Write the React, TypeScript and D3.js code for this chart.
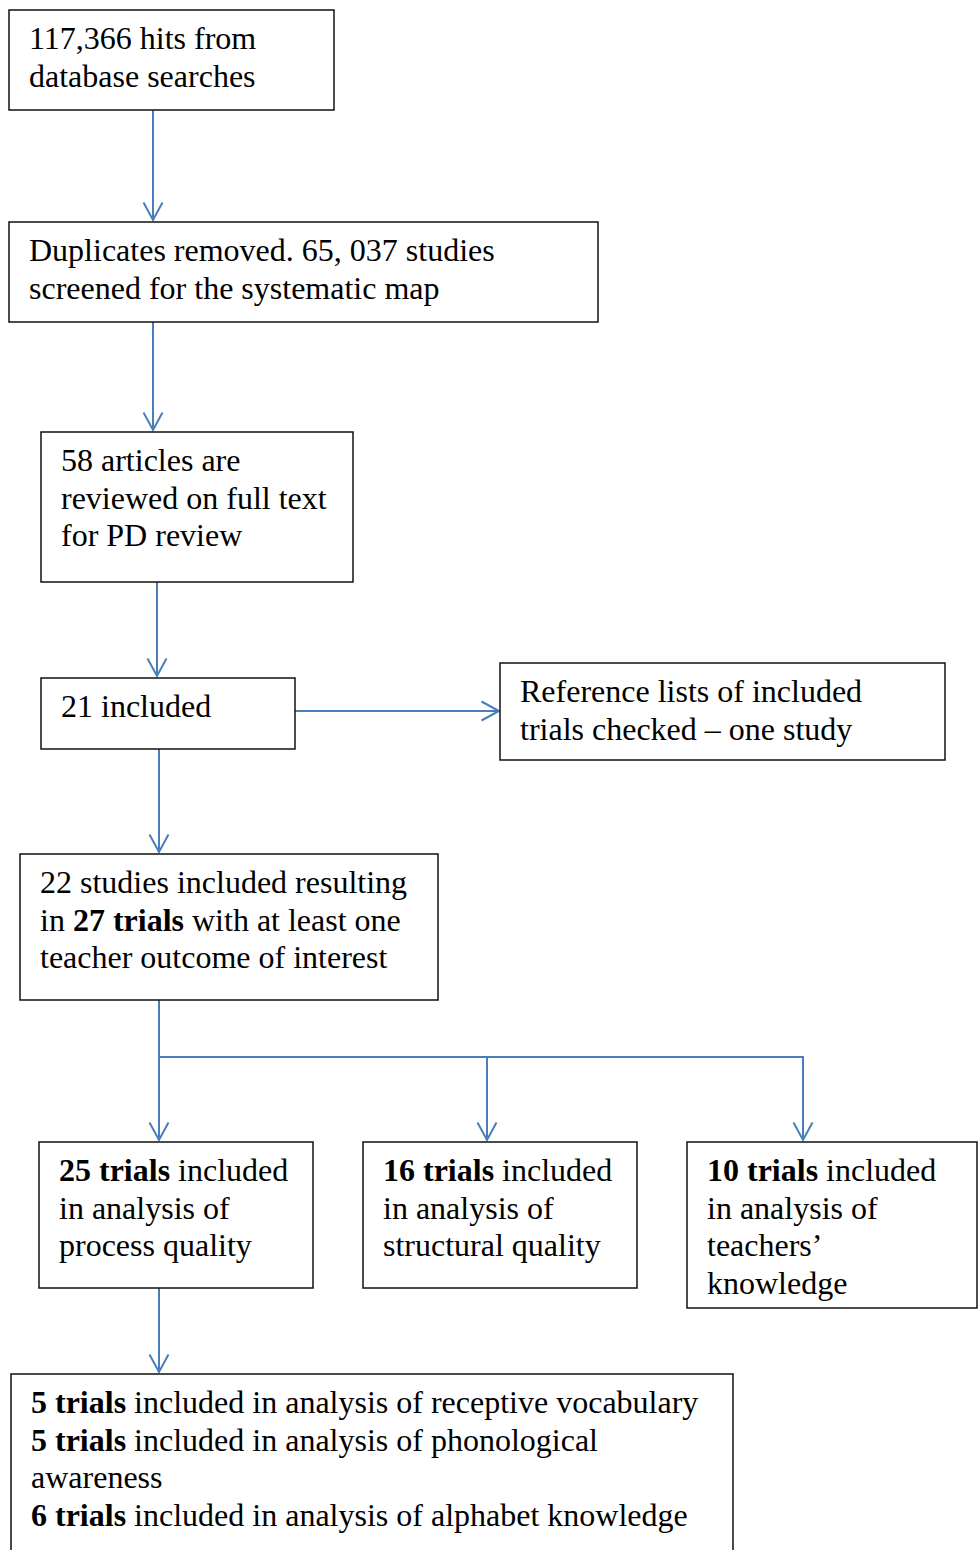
import React, { useEffect, useRef } from 'react';
import * as d3 from 'd3';

// Box texts (** marks bold runs)
const searchText = ['117,366 hits from', 'database searches'];
const dedupText = ['Duplicates removed. 65, 037 studies', 'screened for the systematic map'];
const fullTextText = ['58 articles are', 'reviewed on full text', 'for PD review'];
const includedText = ['21 included'];
const refListText = ['Reference lists of included', 'trials checked – one study'];
const studiesText = ['22 studies included resulting', 'in **27 trials** with at least one', 'teacher outcome of interest'];
const processText = ['**25 trials** included', 'in analysis of', 'process quality'];
const structuralText = ['**16 trials** included', 'in analysis of', 'structural quality'];
const knowledgeText = ['**10 trials** included', 'in analysis of', 'teachers’', 'knowledge'];
const childText = [
  '**5 trials** included in analysis of receptive vocabulary',
  '**5 trials** included in analysis of phonological',
  'awareness',
  '**6 trials** included in analysis of alphabet knowledge',
];

// Layout of the flowchart boxes
const layout: Record<string, { x: number; y: number; w: number; h: number; lines: string[] }> = {
  search: { x: 9, y: 10, w: 325, h: 100, lines: searchText },
  dedup: { x: 9, y: 222, w: 589, h: 100, lines: dedupText },
  fulltext: { x: 41, y: 432, w: 312, h: 150, lines: fullTextText },
  included: { x: 41, y: 678, w: 254, h: 71, lines: includedText },
  reflist: { x: 500, y: 663, w: 445, h: 97, lines: refListText },
  studies: { x: 20, y: 854, w: 418, h: 146, lines: studiesText },
  process: { x: 39, y: 1142, w: 274, h: 146, lines: processText },
  structural: { x: 363, y: 1142, w: 274, h: 146, lines: structuralText },
  knowledge: { x: 687, y: 1142, w: 290, h: 166, lines: knowledgeText },
  child: { x: 11, y: 1374, w: 722, h: 190, lines: childText },
};

// Connectors: [from box, to box, x of the vertical drop, optional branch y]
const links: { from: string; to: string; x: number; branchY?: number; fromX?: number }[] = [
  { from: 'search', to: 'dedup', x: 153 },
  { from: 'dedup', to: 'fulltext', x: 153 },
  { from: 'fulltext', to: 'included', x: 157 },
  { from: 'included', to: 'studies', x: 159 },
  { from: 'studies', to: 'process', x: 159 },
  { from: 'studies', to: 'structural', x: 487, branchY: 1057 },
  { from: 'studies', to: 'knowledge', x: 803, branchY: 1057, fromX: 159 },
  { from: 'process', to: 'child', x: 159 },
];

const FONT = '"Liberation Serif", "Times New Roman", Times, serif';
const BLUE = '#4a7ebb';

function App() {
  const svgRef = useRef<SVGSVGElement>(null);
  const width = 978;
  const height = 1550;

  useEffect(() => {
    if (!svgRef.current) return;
    const svg = d3.select(svgRef.current);
    svg.selectAll('*').remove();

    const line = d3.line<[number, number]>();
    const arrows = svg.append('g')
      .attr('fill', 'none')
      .attr('stroke', BLUE)
      .attr('stroke-width', 2);

    const headDown = (x: number, y: number) =>
      line([[x - 9.5, y - 17.5], [x, y], [x + 9.5, y - 17.5]]);
    const headRight = (x: number, y: number) =>
      line([[x - 17.5, y - 9.5], [x, y], [x - 17.5, y + 9.5]]);

    links.forEach(l => {
      const a = layout[l.from];
      const b = layout[l.to];
      const tipY = b.y - 2;
      if (l.branchY !== undefined) {
        const pts: [number, number][] = l.fromX !== undefined
          ? [[l.fromX, l.branchY], [l.x, l.branchY], [l.x, tipY]]
          : [[l.x, l.branchY], [l.x, tipY]];
        arrows.append('path').attr('d', line(pts));
      } else {
        arrows.append('path').attr('d', line([[l.x, a.y + a.h], [l.x, tipY]]));
      }
      arrows.append('path').attr('d', headDown(l.x, tipY));
    });

    // side arrow to reference-list box
    const inc = layout.included;
    const ref = layout.reflist;
    const sideY = 711;
    arrows.append('path').attr('d', line([[inc.x + inc.w, sideY], [ref.x - 1, sideY]]));
    arrows.append('path').attr('d', headRight(ref.x - 1, sideY));

    // boxes
    const boxes = svg.append('g');
    Object.values(layout).forEach(b => {
      boxes.append('rect')
        .attr('x', b.x)
        .attr('y', b.y)
        .attr('width', b.w)
        .attr('height', b.h)
        .attr('fill', '#fff')
        .attr('stroke', '#111')
        .attr('stroke-width', 1.5);

      b.lines.forEach((txt, i) => {
        const t = boxes.append('text')
          .attr('x', b.x + 20)
          .attr('y', b.y + 39 + i * 37.5)
          .style('font-family', FONT)
          .style('font-size', '32px')
          .style('fill', '#000');
        txt.split(/(\*\*[^*]+\*\*)/).filter(s => s.length).forEach(seg => {
          const bold = seg.startsWith('**');
          t.append('tspan')
            .style('font-weight', bold ? 'bold' : 'normal')
            .text(bold ? seg.slice(2, -2) : seg);
        });
      });
    });
  }, []);

  return (
    <svg
      ref={svgRef}
      width={width}
      height={height}
      style={{ position: 'absolute', left: 0, top: 0, background: '#fff' }}
    />
  );
}

export default App;
